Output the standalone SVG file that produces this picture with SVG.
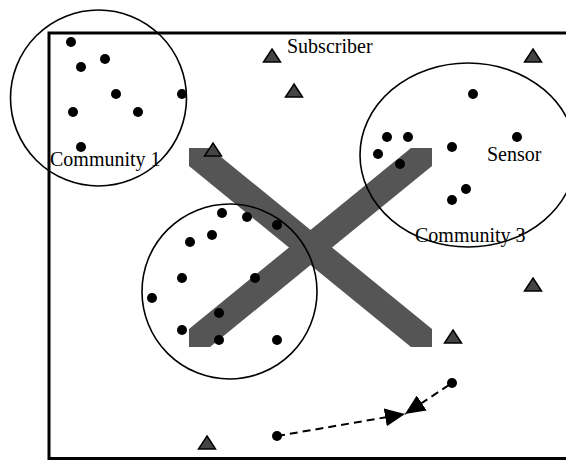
<svg xmlns="http://www.w3.org/2000/svg" width="566" height="460" viewBox="0 0 566 460">
<style>
.frame{fill:none;stroke:#000;stroke-width:3}
.band{fill:#555555;stroke:none}
.comm{fill:none;stroke:#000;stroke-width:1.6}
.dot{fill:#000}
.sub{fill:#444444;stroke:#000;stroke-width:1.5;stroke-linejoin:miter}
.lbl{font-family:"Liberation Serif","Times New Roman",serif;font-size:20px;fill:#000}
.dash{fill:none;stroke:#000;stroke-width:2;stroke-dasharray:8,5}
</style>
<defs>
<marker id="ah" viewBox="0 0 20 18" refX="20" refY="9" markerWidth="20" markerHeight="18" markerUnits="userSpaceOnUse" orient="auto">
<path d="M0,0 L20,9 L0,18 z" fill="#000"/>
</marker>
<path id="tri" d="M0,0 L8.5,13 L-8.5,13 z"/>
</defs>
<rect class="frame" x="49" y="33" width="540" height="425.5"/>
<g id="blocked-zone">
<polygon class="band" points="189,148 210,148 432,329 432,347 411,347 189,166"/>
<polygon class="band" points="189,347 210,347 432,166 432,148 411,148 189,329"/>
</g>
<g id="community1">
<circle class="comm" cx="98.5" cy="98" r="88"/>
<circle class="dot" cx="71" cy="42" r="5"/>
<circle class="dot" cx="105" cy="59" r="5"/>
<circle class="dot" cx="81" cy="67" r="5"/>
<circle class="dot" cx="116" cy="94" r="5"/>
<circle class="dot" cx="182" cy="94" r="5"/>
<circle class="dot" cx="73" cy="112" r="5"/>
<circle class="dot" cx="138" cy="112" r="5"/>
<circle class="dot" cx="81" cy="147" r="5"/>
<text class="lbl" x="50" y="166">Community 1</text>
</g>
<g id="community2">
<circle class="comm" cx="229.5" cy="291.5" r="87.5"/>
<circle class="dot" cx="222" cy="213" r="5"/>
<circle class="dot" cx="247" cy="217" r="5"/>
<circle class="dot" cx="277" cy="225" r="5"/>
<circle class="dot" cx="212" cy="235" r="5"/>
<circle class="dot" cx="190" cy="242" r="5"/>
<circle class="dot" cx="182" cy="278" r="5"/>
<circle class="dot" cx="255" cy="278" r="5"/>
<circle class="dot" cx="152" cy="298" r="5"/>
<circle class="dot" cx="219" cy="313" r="5"/>
<circle class="dot" cx="182" cy="330" r="5"/>
<circle class="dot" cx="219" cy="340" r="5"/>
<circle class="dot" cx="277" cy="340" r="5"/>
</g>
<g id="community3">
<ellipse class="comm" cx="468" cy="155" rx="108" ry="92"/>
<circle class="dot" cx="473" cy="94" r="5"/>
<circle class="dot" cx="387" cy="137" r="5"/>
<circle class="dot" cx="408" cy="137" r="5"/>
<circle class="dot" cx="517" cy="137" r="5"/>
<circle class="dot" cx="452" cy="147" r="5"/>
<circle class="dot" cx="378" cy="154" r="5"/>
<circle class="dot" cx="400" cy="164" r="5"/>
<circle class="dot" cx="466" cy="189" r="5"/>
<circle class="dot" cx="452" cy="200" r="5"/>
<text class="lbl" x="487" y="161">Sensor</text>
<text class="lbl" x="415" y="242">Community 3</text>
</g>
<g id="subscribers">
<use href="#tri" class="sub" x="272" y="49"/>
<use href="#tri" class="sub" x="294" y="84"/>
<use href="#tri" class="sub" x="213" y="143"/>
<use href="#tri" class="sub" x="533" y="49"/>
<use href="#tri" class="sub" x="533" y="278"/>
<use href="#tri" class="sub" x="453" y="330"/>
<use href="#tri" class="sub" x="207" y="436"/>
<text class="lbl" x="287" y="53">Subscriber</text>
</g>
<g id="mobile-sensors">
<circle class="dot" cx="452" cy="383" r="5"/>
<circle class="dot" cx="277" cy="436" r="5"/>
</g>
<g id="connectors">
<line class="dash" x1="277" y1="436" x2="405" y2="414" marker-end="url(#ah)"/>
<line class="dash" x1="449" y1="385" x2="405" y2="414" marker-end="url(#ah)"/>
</g>
</svg>
